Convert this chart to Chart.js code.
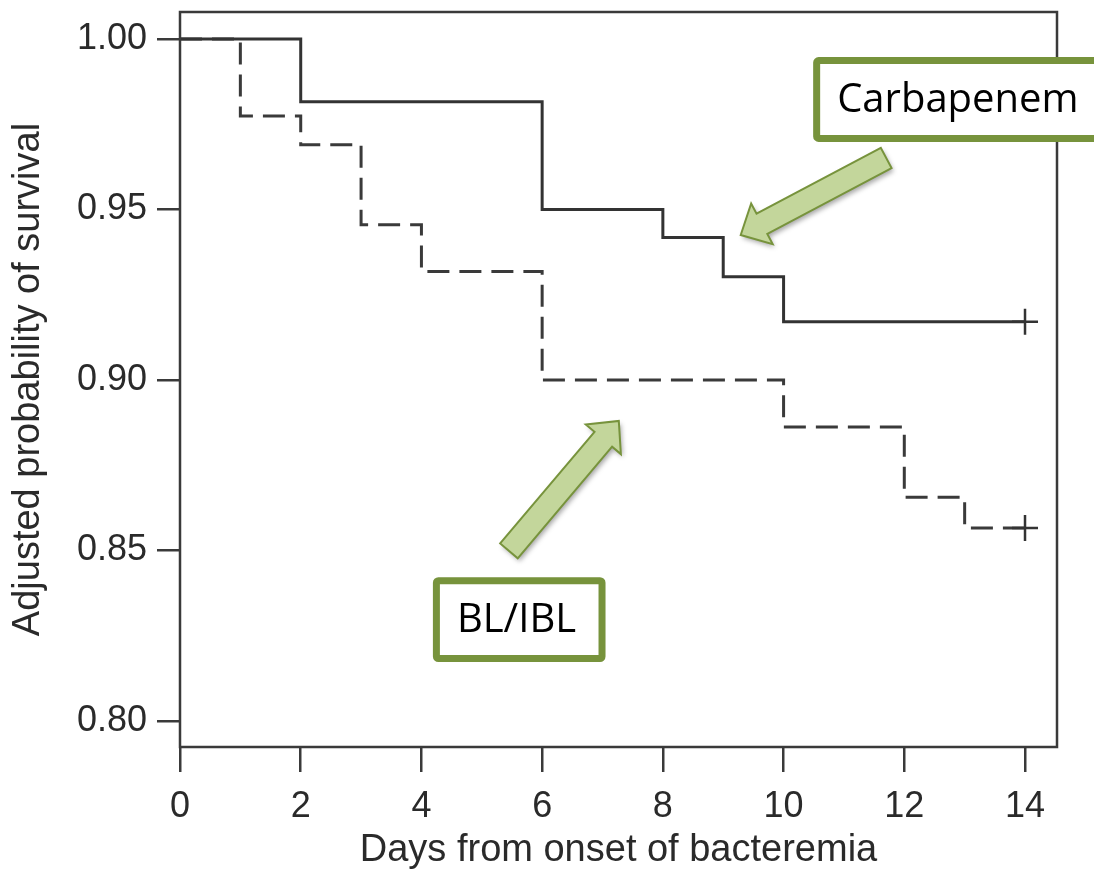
<!DOCTYPE html>
<html>
<head>
<meta charset="utf-8">
<title>Adjusted survival</title>
<script src="https://cdn.jsdelivr.net/npm/chart.js@4/dist/chart.umd.min.js"></script>
<style>
  html, body { margin: 0; padding: 0; background: #fff; }
  #chart { display: block; }
</style>
</head>
<body>
<canvas id="chart" width="1094" height="873"></canvas>
<script>
// survival curves (day of event, survival after it)
var carbaDays = [0, 2, 6, 8, 9, 10, 14];
var carbaSurv = [1.00, 0.9816, 0.9500, 0.9418, 0.9303, 0.9171, 0.9171];

var blDays = [0, 1, 2, 3, 4, 6, 10, 12, 13, 14];
var blSurv = [1.00, 0.9774, 0.9690, 0.9455, 0.9318, 0.9000, 0.8862, 0.8656, 0.8566, 0.8566];

var xTicks = [0, 2, 4, 6, 8, 10, 12, 14];
var yTicks = [0.80, 0.85, 0.90, 0.95, 1.00];

var xTitle = 'Days from onset of bacteremia';
var yTitle = 'Adjusted probability of survival';

var green = '#77933C';
var greenFill = '#C3D69B';

function toPoints(xs, ys) {
    return xs.map(function (x, i) { return { x: x, y: ys[i] }; });
}

// only the last point gets the censor "+"
function censorRadius(xs) {
    return xs.map(function (x, i) { return i === xs.length - 1 ? 13 : 0; });
}

// callouts, placed in data units
var callouts = [
    { text: 'Carbapenem', box: [10.49, 0.9947, 15.3, 0.9698], arrow: [11.70, 0.9651, 9.29, 0.9425] },
    { text: 'BL/IBL', box: [4.19, 0.8422, 7.05, 0.8173], arrow: [5.45, 0.8499, 7.27, 0.8880] }
];

function drawArrow(ctx, x1, y1, x2, y2) {
    var shaft = 23, headW = 46, headL = 24;
    var dx = x2 - x1, dy = y2 - y1;
    var len = Math.sqrt(dx * dx + dy * dy);
    var ux = dx / len, uy = dy / len;
    var nx = -uy, ny = ux;
    var bx = x2 - ux * headL, by = y2 - uy * headL;
    ctx.beginPath();
    ctx.moveTo(x1 + nx * shaft / 2, y1 + ny * shaft / 2);
    ctx.lineTo(bx + nx * shaft / 2, by + ny * shaft / 2);
    ctx.lineTo(bx + nx * headW / 2, by + ny * headW / 2);
    ctx.lineTo(x2, y2);
    ctx.lineTo(bx - nx * headW / 2, by - ny * headW / 2);
    ctx.lineTo(bx - nx * shaft / 2, by - ny * shaft / 2);
    ctx.lineTo(x1 - nx * shaft / 2, y1 - ny * shaft / 2);
    ctx.closePath();
    ctx.save();
    ctx.shadowColor = 'rgba(0,0,0,0.35)';
    ctx.shadowBlur = 5;
    ctx.shadowOffsetX = 2;
    ctx.shadowOffsetY = 3;
    ctx.fillStyle = greenFill;
    ctx.fill();
    ctx.restore();
    ctx.lineWidth = 2;
    ctx.strokeStyle = green;
    ctx.lineJoin = 'miter';
    ctx.stroke();
}

var framePlugin = {
    id: 'frame',
    afterDatasetsDraw: function (chart) {
        var ctx = chart.ctx;
        var a = chart.chartArea;
        ctx.save();
        ctx.strokeStyle = '#3a3a3a';
        ctx.lineWidth = 2.5;
        ctx.strokeRect(a.left, a.top, a.right - a.left, a.bottom - a.top);
        ctx.restore();
    },
    afterDraw: function (chart) {
        var ctx = chart.ctx;
        var xs = chart.scales.x, ys = chart.scales.y;
        ctx.save();
        callouts.forEach(function (c) {
            var ar = c.arrow;
            drawArrow(ctx, xs.getPixelForValue(ar[0]), ys.getPixelForValue(ar[1]),
                xs.getPixelForValue(ar[2]), ys.getPixelForValue(ar[3]));

            var l = xs.getPixelForValue(c.box[0]), t = ys.getPixelForValue(c.box[1]);
            var r = xs.getPixelForValue(c.box[2]), b = ys.getPixelForValue(c.box[3]);
            var lw = 7;
            ctx.beginPath();
            ctx.roundRect(l + lw / 2, t + lw / 2, r - l - lw, b - t - lw, 2);
            ctx.fillStyle = '#fff';
            ctx.fill();
            ctx.lineWidth = lw;
            ctx.strokeStyle = green;
            ctx.stroke();

            ctx.fillStyle = '#000';
            ctx.font = '40px "Open Sans"';
            ctx.textAlign = 'left';
            ctx.textBaseline = 'middle';
            ctx.fillText(c.text, l + 24, (t + b) / 2 + 1);
        });
        ctx.restore();
    }
};

var ctx = document.getElementById('chart').getContext('2d');
var chart = new Chart(ctx, {
    type: 'line',
    data: {
        datasets: [{
            label: 'Carbapenem',
            data: toPoints(carbaDays, carbaSurv),
            stepped: 'before',
            borderColor: '#333',
            borderWidth: 3,
            fill: false,
            pointStyle: 'cross',
            pointRadius: censorRadius(carbaDays),
            pointBorderColor: '#333',
            pointBorderWidth: 2.5,
            pointHoverRadius: 0
        }, {
            label: 'BL/IBL',
            data: toPoints(blDays, blSurv),
            stepped: 'before',
            borderColor: '#3a3a3a',
            borderWidth: 3,
            borderDash: [22, 10],
            fill: false,
            pointStyle: 'cross',
            pointRadius: censorRadius(blDays),
            pointBorderColor: '#333',
            pointBorderWidth: 2.5,
            pointHoverRadius: 0
        }]
    },
    options: {
        responsive: false,
        animation: false,
        events: [],
        layout: { autoPadding: false, padding: { top: 12, right: 37, left: 0, bottom: 0 } },
        plugins: {
            legend: { display: false },
            tooltip: { enabled: false }
        },
        scales: {
            x: {
                type: 'linear',
                min: 0,
                max: 14.53,
                afterFit: function (scale) {
                    scale.height = 126;
                    scale.paddingLeft = 0;
                    scale.paddingRight = 0;
                },
                afterBuildTicks: function (scale) {
                    scale.ticks = xTicks.map(function (v) { return { value: v }; });
                },
                grid: {
                    drawOnChartArea: false,
                    drawTicks: true,
                    tickLength: 25,
                    color: '#3a3a3a',
                    lineWidth: 2.5
                },
                border: { display: false },
                ticks: {
                    padding: 13,
                    color: '#2a2a2a',
                    font: { family: '"Liberation Sans", Arial, sans-serif', size: 36 },
                    maxRotation: 0,
                    callback: function (v) { return String(v); }
                },
                title: {
                    display: true,
                    text: xTitle,
                    color: '#2a2a2a',
                    font: { family: '"Liberation Sans", Arial, sans-serif', size: 38 },
                    padding: { top: 0, bottom: 0 }
                }
            },
            y: {
                type: 'linear',
                min: 0.7924,
                max: 1.0079,
                afterFit: function (scale) {
                    scale.width = 180;
                    scale.paddingTop = 0;
                    scale.paddingBottom = 0;
                },
                afterBuildTicks: function (scale) {
                    scale.ticks = yTicks.map(function (v) { return { value: v }; });
                },
                grid: {
                    drawOnChartArea: false,
                    drawTicks: true,
                    tickLength: 23,
                    color: '#3a3a3a',
                    lineWidth: 2.5
                },
                border: { display: false },
                ticks: {
                    padding: 10,
                    color: '#2a2a2a',
                    font: { family: '"Liberation Sans", Arial, sans-serif', size: 36 },
                    callback: function (v) { return Number(v).toFixed(2); }
                },
                title: {
                    display: true,
                    text: yTitle,
                    color: '#2a2a2a',
                    font: { family: '"Liberation Sans", Arial, sans-serif', size: 38 },
                    padding: { top: 6, bottom: 0 }
                }
            }
        }
    },
    plugins: [framePlugin]
});
</script>
</body>
</html>
